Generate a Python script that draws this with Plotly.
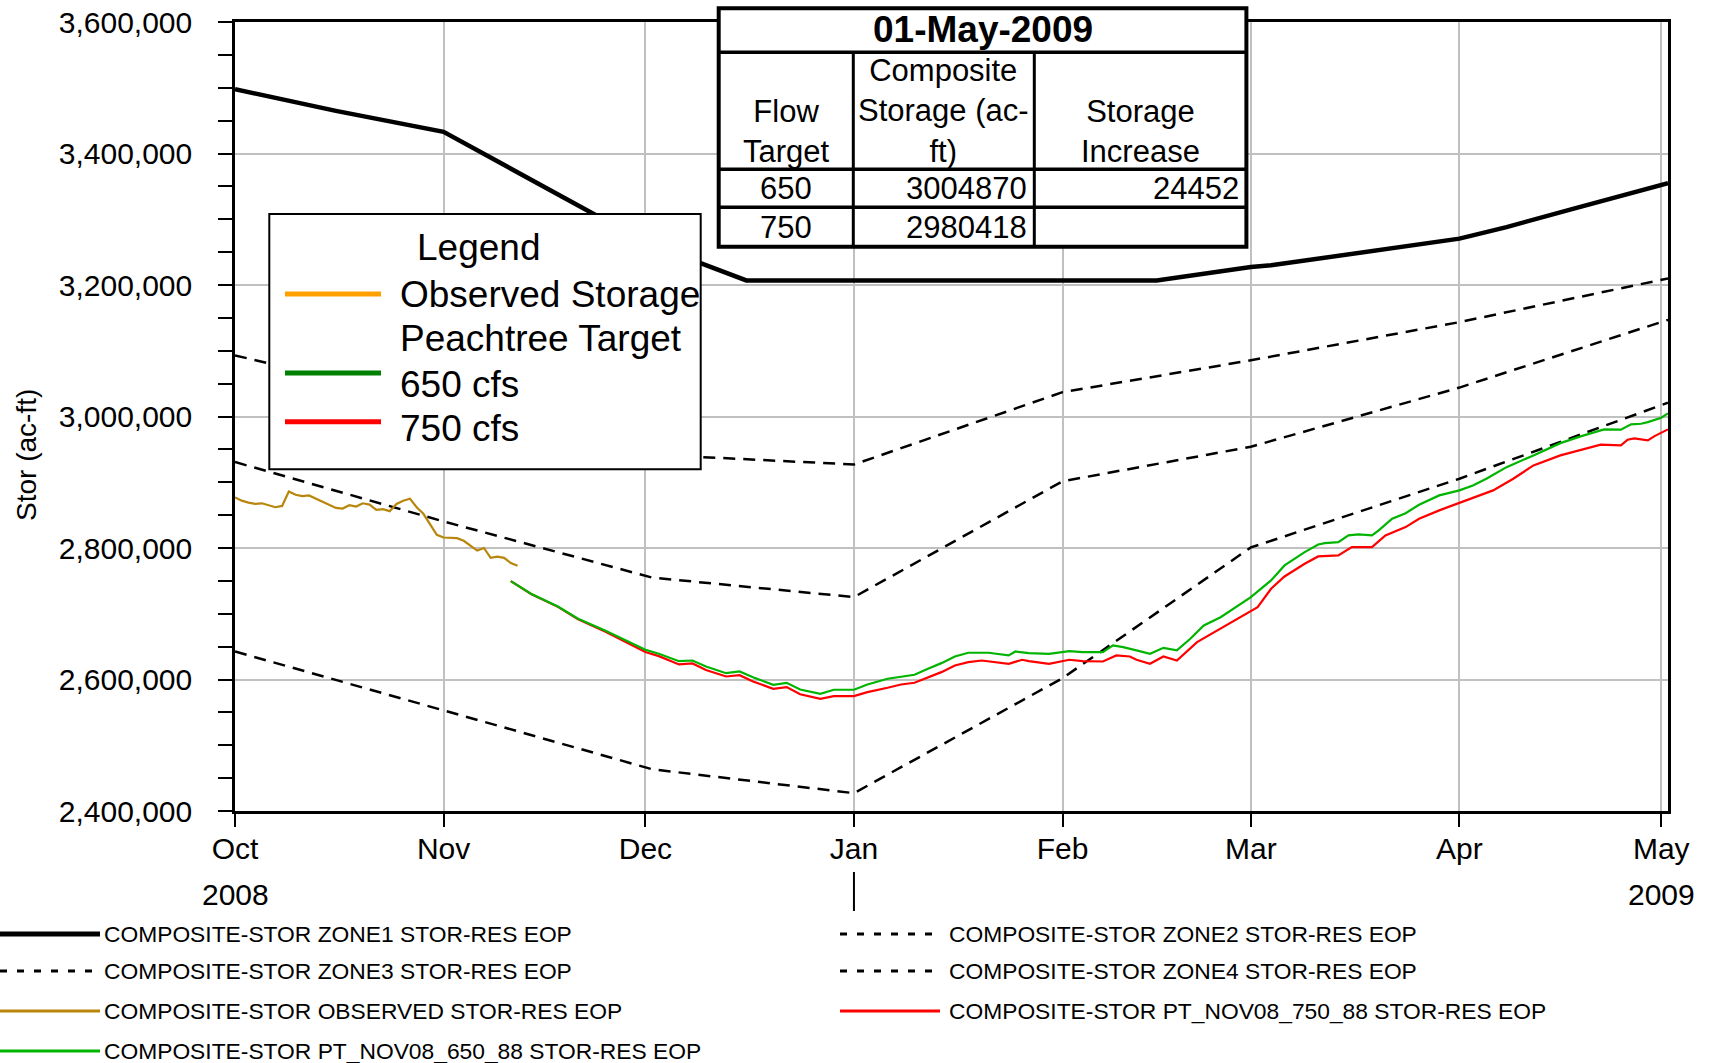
import plotly.graph_objects as go
import pandas as pd

FONT = "Liberation Sans, Arial, sans-serif"

# ---------------- data (ac-ft) ----------------
zone1_dates = ["2008-10-01", "2008-10-08", "2008-10-16", "2008-11-01", "2008-12-01", "2008-12-16",
               "2009-02-15", "2009-03-01", "2009-03-04", "2009-04-01", "2009-04-08", "2009-04-18", "2009-05-02"]
zone1_stor = [3497800, 3482600, 3464800, 3433000, 3265000, 3207000,
              3207000, 3227300, 3229900, 3270500, 3288100, 3316100, 3355000]

zone2_dates = ["2008-10-01", "2008-12-02", "2009-01-01", "2009-02-01", "2009-03-01", "2009-04-01", "2009-05-02"]
zone2_stor = [3093000, 2942000, 2927000, 3037000, 3085500, 3143500, 3210000]

zone34_dates = ["2008-10-01", "2008-11-01", "2008-12-02", "2009-01-01", "2009-02-01", "2009-03-01", "2009-04-01", "2009-05-02"]
zone3_stor = [2930700, 2840400, 2755000, 2725300, 2901500, 2954000, 3044000, 3147000]
zone4_stor = [2642600, 2552900, 2463500, 2427100, 2602000, 2800900, 2905400, 3021000]

# observed, daily from 01-Oct-2008
obs_stor = [2877000, 2872000, 2869000, 2867000, 2868000, 2865000, 2862000, 2864000, 2886000, 2881000,
            2879000, 2880000, 2875000, 2870000, 2865000, 2861000, 2860000, 2865000, 2863000, 2868000,
            2866000, 2858000, 2859000, 2856000, 2867000, 2872000, 2875000, 2862000, 2852000, 2836000,
            2820000, 2816000, 2816000, 2815000, 2811000, 2803000, 2796000, 2800000, 2785000, 2787000,
            2785000, 2777000, 2773000]

pt650_dates = ["2008-11-11", "2008-11-14", "2008-11-18", "2008-11-21", "2008-11-25", "2008-11-28",
               "2008-12-01", "2008-12-03", "2008-12-06", "2008-12-08", "2008-12-10", "2008-12-13",
               "2008-12-15", "2008-12-17", "2008-12-20", "2008-12-22", "2008-12-24", "2008-12-27",
               "2008-12-29", "2009-01-01", "2009-01-03", "2009-01-06", "2009-01-08", "2009-01-10",
               "2009-01-12", "2009-01-14", "2009-01-16", "2009-01-18", "2009-01-21", "2009-01-24",
               "2009-01-25", "2009-01-27", "2009-01-30", "2009-02-02", "2009-02-04", "2009-02-07",
               "2009-02-08 12:00", "2009-02-10", "2009-02-12", "2009-02-14", "2009-02-16", "2009-02-18",
               "2009-02-20", "2009-02-22", "2009-02-24 12:00", "2009-02-27", "2009-03-01", "2009-03-04",
               "2009-03-06", "2009-03-09", "2009-03-11", "2009-03-12", "2009-03-14", "2009-03-15 12:00",
               "2009-03-17", "2009-03-19", "2009-03-20", "2009-03-22", "2009-03-24", "2009-03-26",
               "2009-03-29", "2009-04-01", "2009-04-03", "2009-04-05", "2009-04-08", "2009-04-12",
               "2009-04-16", "2009-04-19", "2009-04-21", "2009-04-22 12:00", "2009-04-25", "2009-04-26 12:00",
               "2009-04-28", "2009-04-29", "2009-05-01", "2009-05-02"]
pt650_stor = [2749600, 2730400, 2711100, 2692400, 2674600, 2659400,
              2645200, 2639100, 2627900, 2628900, 2619800, 2609600,
              2612200, 2603500, 2592000, 2595000, 2584800, 2578300,
              2584400, 2584400, 2592400, 2601100, 2604600, 2607200,
              2616300, 2624900, 2635000, 2640700, 2640700, 2636600,
              2642600, 2640100, 2639100, 2643100, 2641600, 2641600,
              2651800, 2649200, 2644200, 2639100, 2648200, 2644200,
              2662000, 2682200, 2694800, 2711100, 2725300, 2750700,
              2773500, 2793700, 2805400, 2807400, 2808900, 2819100,
              2820600, 2819100, 2826700, 2844500, 2853000, 2865800,
              2880000, 2887600, 2895200, 2905400, 2923000, 2940800,
              2959500, 2969700, 2976300, 2980400, 2979900, 2988000,
              2989000, 2991500, 2998200, 3004870]

pt750_dates = ["2008-11-11", "2008-11-14", "2008-11-18", "2008-11-21", "2008-11-25", "2008-11-28",
               "2008-12-01", "2008-12-03", "2008-12-06", "2008-12-08", "2008-12-10", "2008-12-13",
               "2008-12-15", "2008-12-17", "2008-12-20", "2008-12-22", "2008-12-24", "2008-12-27",
               "2008-12-29", "2009-01-01", "2009-01-03", "2009-01-06", "2009-01-08", "2009-01-10",
               "2009-01-12", "2009-01-14", "2009-01-16", "2009-01-18", "2009-01-20", "2009-01-24",
               "2009-01-26", "2009-01-27", "2009-01-30", "2009-02-02", "2009-02-04", "2009-02-07",
               "2009-02-09", "2009-02-11", "2009-02-12", "2009-02-14", "2009-02-16", "2009-02-18",
               "2009-02-21", "2009-02-23", "2009-02-26", "2009-03-02", "2009-03-04", "2009-03-06",
               "2009-03-09", "2009-03-11", "2009-03-14", "2009-03-16", "2009-03-19", "2009-03-21",
               "2009-03-24", "2009-03-26", "2009-03-29", "2009-04-01", "2009-04-06", "2009-04-09",
               "2009-04-12", "2009-04-16", "2009-04-19 12:00", "2009-04-22", "2009-04-25", "2009-04-26",
               "2009-04-27", "2009-04-29", "2009-04-30", "2009-05-02"]
pt750_stor = [2749600, 2730000, 2710500, 2691500, 2673000, 2657000,
              2641700, 2635500, 2622900, 2624500, 2614500, 2604600,
              2606500, 2597000, 2585900, 2588500, 2577500, 2570700,
              2574700, 2574700, 2580800, 2587400, 2592400, 2595000,
              2603500, 2611200, 2621400, 2626400, 2628900, 2623900,
              2630000, 2627900, 2623900, 2630000, 2627900, 2627400,
              2636600, 2635000, 2630000, 2623900, 2635000, 2628900,
              2656800, 2668500, 2685700, 2710100, 2738000, 2756700,
              2776100, 2787200, 2788700, 2801300, 2801300, 2819100,
              2831800, 2844500, 2857200, 2868300, 2887600, 2905400,
              2925600, 2940800, 2951000, 2957100, 2956000, 2964700,
              2966700, 2963600, 2970200, 2980418]

month_ticks = ["2008-10-01", "2008-11-01", "2008-12-01", "2009-01-01",
               "2009-02-01", "2009-03-01", "2009-04-01", "2009-05-01"]
month_labels = ["Oct", "Nov", "Dec", "Jan", "Feb", "Mar", "Apr", "May"]
year_ticks = ["2008-10-01", "2009-05-01"]
year_labels = ["2008", "2009"]
year_break = "2009-01-01"
y_ticks = [2400000, 2600000, 2800000, 3000000, 3200000, 3400000, 3600000]

table_date = "01-May-2009"
table_header = ["Flow<br>Target", "Composite<br>Storage (ac-<br>ft)", "Storage<br>Increase"]
table_flow = ["650", "750"]
table_storage = ["3004870", "2980418"]
table_increase = ["24452", ""]

inset_labels = ["Observed Storage", "Peachtree Target", "650 cfs", "750 cfs"]
inset_colors = ["#FFA000", None, "#008000", "#FF0000"]

bottom_names = ["COMPOSITE-STOR ZONE1 STOR-RES EOP", "COMPOSITE-STOR ZONE2 STOR-RES EOP",
                "COMPOSITE-STOR ZONE3 STOR-RES EOP", "COMPOSITE-STOR ZONE4 STOR-RES EOP",
                "COMPOSITE-STOR OBSERVED STOR-RES EOP", "COMPOSITE-STOR PT_NOV08_750_88 STOR-RES EOP",
                "COMPOSITE-STOR PT_NOV08_650_88 STOR-RES EOP"]

# ---------------- geometry ----------------
W, H = 1710, 1063
L, R, T, B = 235, 42, 22, 252
PW, PH = W - L - R, H - T - B


def px(x):
    return (x - L) / PW


def py(y):
    return (H - B - y) / PH


DASH = "12px,8px"
GOLD = "#B8860B"
GREEN = "#00B400"
RED = "#FF0000"

fig = go.Figure()

fig.add_trace(go.Scatter(x=zone1_dates, y=zone1_stor, mode="lines",
                         line=dict(color="black", width=4.5), showlegend=False))
fig.add_trace(go.Scatter(x=zone2_dates, y=zone2_stor, mode="lines",
                         line=dict(color="black", width=2.5, dash=DASH), showlegend=False))
fig.add_trace(go.Scatter(x=zone34_dates, y=zone3_stor, mode="lines",
                         line=dict(color="black", width=2.5, dash=DASH), showlegend=False))
fig.add_trace(go.Scatter(x=zone34_dates, y=zone4_stor, mode="lines",
                         line=dict(color="black", width=2.5, dash=DASH), showlegend=False))
fig.add_trace(go.Scatter(x=pd.date_range("2008-10-01", periods=len(obs_stor), freq="D"), y=obs_stor,
                         mode="lines", line=dict(color=GOLD, width=2.2), showlegend=False))
fig.add_trace(go.Scatter(x=pt750_dates, y=pt750_stor, mode="lines",
                         line=dict(color=RED, width=2.2), showlegend=False))
fig.add_trace(go.Scatter(x=pt650_dates, y=pt650_stor, mode="lines",
                         line=dict(color=GREEN, width=2.2), showlegend=False))

shapes = []
annotations = []


def hline(x0, x1, y, **line):
    shapes.append(dict(type="line", xref="paper", yref="paper", x0=px(x0), x1=px(x1),
                       y0=py(y), y1=py(y), line=line, layer="above"))


def label(x, y, text, size, xanchor="center", **kw):
    annotations.append(dict(xref="paper", yref="paper", x=px(x), y=py(y), text=text, showarrow=False,
                            xanchor=xanchor, yanchor="middle", font=dict(family=FONT, size=size), **kw))


# ---- summary table (top) ----
col_x = [718.7, 853.3, 1034.3, 1246.4]
row_y = [8.3, 52.3, 169.3, 207.3, 246.7]
shapes.append(dict(type="rect", xref="paper", yref="paper", x0=px(col_x[0]), x1=px(col_x[-1]),
                   y0=py(row_y[-1]), y1=py(row_y[0]), line=dict(color="black", width=4),
                   fillcolor="white", layer="above"))
for y in row_y[1:-1]:
    hline(col_x[0], col_x[-1], y, color="black", width=3.5)
for x in col_x[1:-1]:
    shapes.append(dict(type="line", xref="paper", yref="paper", x0=px(x), x1=px(x),
                       y0=py(row_y[1]), y1=py(row_y[-1]), line=dict(color="black", width=3), layer="above"))
label((col_x[0] + col_x[-1]) / 2, 29, "<b>" + table_date + "</b>", 37)
head_y = [131, 111.5, 131]
for i, (txt, hy) in enumerate(zip(table_header, head_y)):
    label((col_x[i] + col_x[i + 1]) / 2, hy, txt, 31, align="center")
cell_y = [188.3, 227]
for j in range(len(table_flow)):
    label((col_x[0] + col_x[1]) / 2, cell_y[j], table_flow[j], 31)
    label(col_x[2] - 5, cell_y[j], table_storage[j], 31, xanchor="right")
    if table_increase[j]:
        label(col_x[3] - 5, cell_y[j], table_increase[j], 31, xanchor="right")

# ---- inset legend box ----
shapes.append(dict(type="rect", xref="paper", yref="paper", x0=px(269.3), x1=px(700.7),
                   y0=py(469.3), y1=py(214), line=dict(color="black", width=2), fillcolor="white", layer="above"))
label(478, 247, "Legend", 37)
inset_text_y = [295, 339, 384, 429]
inset_line_y = [294, None, 373, 421.7]
for lab, col, ty, ly in zip(inset_labels, inset_colors, inset_text_y, inset_line_y):
    label(398, ty, lab, 37, xanchor="left")
    if col:
        hline(285, 381, ly, color=col, width=5)

# ---- bottom legend ----
bottom_styles = [dict(color="black", width=5), dict(color="black", width=3, dash="7px,10px"),
                 dict(color="black", width=3, dash="7px,10px"), dict(color="black", width=3, dash="7px,10px"),
                 dict(color=GOLD, width=3), dict(color=RED, width=3), dict(color=GREEN, width=3)]
leg_row_y = [934, 971, 1011, 1051]
for i, (name, sty) in enumerate(zip(bottom_names, bottom_styles)):
    col, row = i % 2, i // 2
    y = leg_row_y[row]
    lx0, lx1, tx = (0, 100, 102) if col == 0 else (840, 940, 947)
    hline(lx0, lx1, y, **sty)
    label(tx, y, name, 22.8, xanchor="left")

# ---- second row of x labels: years and the year break ----
for d, yl in zip(year_ticks, year_labels):
    annotations.append(dict(xref="x", yref="paper", x=d, y=py(894), text=yl, showarrow=False,
                            xanchor="center", yanchor="middle", font=dict(family=FONT, size=30)))
shapes.append(dict(type="line", xref="x", yref="paper", x0=year_break, x1=year_break,
                   y0=py(872), y1=py(911), line=dict(color="black", width=2)))

# y axis title
annotations.append(dict(xref="paper", yref="paper", x=px(26), y=py(455), text="Stor (ac-ft)", textangle=-90,
                        showarrow=False, xanchor="center", yanchor="middle", font=dict(family=FONT, size=28)))

fig.update_layout(
    width=W, height=H,
    margin=dict(l=L, r=R, t=T, b=B, pad=0, autoexpand=False),
    paper_bgcolor="white", plot_bgcolor="white",
    font=dict(family=FONT, color="black"),
    showlegend=False,
    shapes=shapes,
    annotations=annotations,
    xaxis=dict(type="date", range=["2008-10-01", "2009-05-02"], tickvals=month_ticks, ticktext=month_labels,
               ticks="outside", ticklen=13, tickwidth=2, tickcolor="black", ticklabelstandoff=-4,
               tickfont=dict(size=30), showline=True, linecolor="black", linewidth=2.5, mirror=True,
               showgrid=True, gridcolor="#C0C0C0", gridwidth=2, zeroline=False, automargin=False),
    yaxis=dict(range=[2400000, 3600000], tickvals=y_ticks, tickformat=",",
               ticks="outside", ticklen=14, tickwidth=2, tickcolor="black", ticklabelstandoff=20,
               tickfont=dict(size=30), showline=True, linecolor="black", linewidth=2.5, mirror=True,
               showgrid=True, gridcolor="#C0C0C0", gridwidth=2, zeroline=False, automargin=False,
               minor=dict(dtick=50000, tick0=2400000, ticks="outside", ticklen=14, tickwidth=2,
                          tickcolor="black", showgrid=False)),
)

fig.write_html("out.html", config={"displayModeBar": False},
               post_script="document.body.style.margin='0';document.body.style.overflow='hidden';")
